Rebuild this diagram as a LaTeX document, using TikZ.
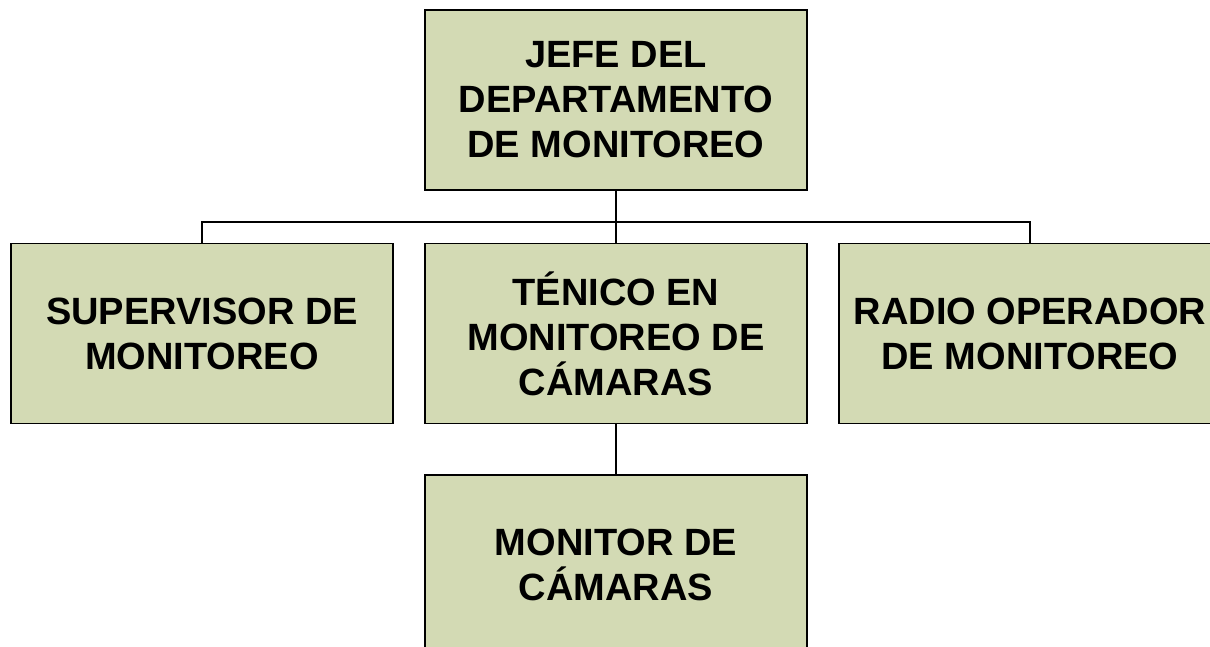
\documentclass[tikz,border=0pt]{standalone}
\usepackage{fontspec}
\setmainfont{Liberation Sans}
\definecolor{boxfill}{HTML}{D3DAB4}
\begin{document}
\begin{tikzpicture}[x=1pt,y=-1pt,
  orgbox/.style={draw=black, line width=1.6pt, fill=boxfill, minimum width=382pt, minimum height=180pt, inner sep=0pt, align=center, font=\fontsize{38}{45}\selectfont\bfseries},
  conn/.style={draw=black, line width=1.6pt}]
\useasboundingbox (0,0) rectangle (1210,647);
\clip (0,0) rectangle (1210,647);
\node[orgbox] (jefe) at (616,100) {JEFE DEL\\DEPARTAMENTO\\DE MONITOREO};
\node[orgbox] (sup) at (202,333.5) {SUPERVISOR DE\\MONITOREO};
\node[orgbox] (tec) at (616,333.5) {TÉNICO EN\\MONITOREO DE\\CÁMARAS};
\node[orgbox] (radio) at (1030,333.5) {RADIO OPERADOR\\DE MONITOREO};
\node[orgbox] (mon) at (616,565) {MONITOR DE\\CÁMARAS};
\coordinate (bus) at (616,222);
\draw[conn] (jefe.south) -- (tec.north);
\draw[conn] (sup.north) |- (bus) -| (radio.north);
\draw[conn] (tec.south) -- (mon.north);
\end{tikzpicture}
\end{document}
